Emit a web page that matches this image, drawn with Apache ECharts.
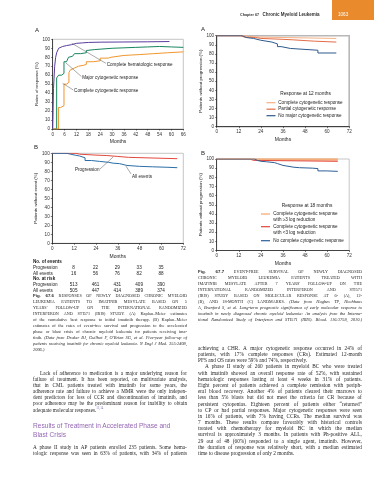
<!DOCTYPE html>
<html><head><meta charset="utf-8">
<script src="https://cdn.jsdelivr.net/npm/echarts@6/dist/echarts.min.js"></script>
<style>
html,body{margin:0;padding:0;background:#fff;}
#page{position:relative;width:374px;height:480px;overflow:hidden;background:#fff;}
#chart{position:absolute;left:0;top:0;width:374px;height:480px;}
#txt{position:absolute;left:0;top:0;width:374px;height:480px;pointer-events:none;}
.ln{position:absolute;display:flex;flex-wrap:nowrap;white-space:nowrap;align-items:baseline;font-family:"Liberation Serif",serif;color:#231f20;}
.ln span{white-space:nowrap;}
.hd{position:absolute;white-space:nowrap;font-family:"Liberation Sans",sans-serif;color:#9467b3;}
</style></head><body>
<div id="page"><div id="chart"></div><div id="txt"></div></div>
<script>
// ---------- DATA ----------
// Fig 67.6 A : cumulative best response (months, %)
const monthsA_CHR  = [0, 0.4, 1, 1.5, 2, 3, 4, 5, 7, 9.5, 12, 15, 18, 24, 36, 48, 59];
const valuesA_CHR  = [0, 45, 70, 80, 85, 90, 92, 93, 94, 95.5, 96, 96.5, 96.8, 97, 97.2, 97.5, 97.5];
const monthsA_MCyR = [0, 2, 3, 4.5, 5.7, 7, 8, 9, 10, 11, 14, 17, 18, 21, 24, 30, 36, 42, 48, 54, 60, 66];
const valuesA_MCyR = [0, 57, 60, 62, 75, 77, 80, 81, 82, 84, 85, 87.5, 88.5, 89, 90, 90.5, 91, 91.5, 92, 91.5, 91, 91];
const monthsA_CCyR = [0, 2.9, 4, 5.7, 7, 8.2, 9, 10, 11, 13, 15.5, 17, 20.5, 24, 28, 29.5, 36, 44, 51, 58, 66];
const valuesA_CCyR = [0, 24, 26, 50, 52, 63, 66, 68, 70, 71, 72, 75, 76, 79, 80, 82, 83, 84, 85, 86, 86];
const seriesNamesA = ['Complete hematologic response', 'Major cytogenetic response', 'Complete cytogenetic response'];

// Fig 67.6 B : patients without event (%)
const monthsB_Prog = [0, 13, 15, 24, 30, 36, 42, 68.7];
const valuesB_Prog = [100, 99, 98, 97.5, 96.5, 95.5, 94, 94];
const monthsB_All  = [0, 8, 10, 12.5, 15, 18, 21.5, 26, 31, 33.5, 37, 41, 48, 55, 63, 68.7];
const valuesB_All  = [100, 99, 98, 97, 95, 92, 91, 90, 89, 88.5, 86.5, 85.5, 85, 84.5, 84, 83.5];
const seriesNamesB = ['Progression', 'All events'];
const tableMonths = [12, 24, 36, 48, 60];
const eventsProgression = [8, 22, 29, 33, 35];
const eventsAll = [16, 56, 76, 82, 88];
const riskProgression = [513, 461, 431, 409, 390];
const riskAll = [505, 447, 414, 389, 374];

// Fig 67.7 A : response at 12 months
const monthsRA_CCyR   = [0, 16, 18, 23, 36, 50, 65];
const valuesRA_CCyR   = [100, 99, 98.5, 98, 97.5, 97, 97];
const monthsRA_PCyR   = [0, 13, 15, 21, 24, 36, 41, 53, 65];
const valuesRA_PCyR   = [100, 98.5, 98, 97, 96, 95.5, 94, 93, 93];
const monthsRA_NoMCyR = [0, 14, 16, 20, 24, 30, 33, 35, 40, 55, 65];
const valuesRA_NoMCyR = [100, 98, 97, 95, 93, 91, 88, 86, 84, 81, 81];
const legendRA = ['Complete cytogenetic response', 'Partial cytogenetic response', 'No major cytogenetic response'];

// Fig 67.7 B : response at 18 months
const monthsRB_ge3   = [0, 65.8];
const valuesRB_ge3   = [100, 100];
const monthsRB_lt3   = [0, 18, 20, 65.8];
const valuesRB_lt3   = [100, 98.5, 97.5, 97.5];
const monthsRB_noCCyR = [0, 20.7, 22, 24, 27, 31.5, 33, 36, 42, 45, 52, 55, 59.5, 65.8];
const valuesRB_noCCyR = [100, 98.5, 97.5, 97, 96, 95, 93, 91, 90.5, 90, 89.5, 87, 86.5, 86.5];
const legendRB = ['Complete cytogenetic response\nwith \u22653 log reduction', 'Complete cytogenetic response\nwith <3 log reduction', 'No complete cytogenetic response'];

const xTicksLeftA = {max: 66, interval: 6};
const xTicksOther = {max: 72, interval: 12};

// ---------- CHART ----------
const FONT = 'Liberation Sans';
const chart = echarts.init(document.getElementById('chart'), null, {renderer: 'canvas', width: 374, height: 480});
const grids = [
  {left: 52.7, top: 39.3, width: 130.6, height: 89.7},
  {left: 52.3, top: 153.3, width: 131, height: 90},
  {left: 216.7, top: 35.7, width: 132.5, height: 91},
  {left: 216.7, top: 159, width: 132.5, height: 91.5}
].map((g, i) => Object.assign({show: true, borderColor: '#b8b8b8', borderWidth: i === 2 ? 1.6 : 0.8, backgroundColor: 'transparent', containLabel: false}, g));

function xAx(gi, t) {
  return {type: 'value', gridIndex: gi, min: 0, max: t.max, interval: t.interval,
    name: 'Months', nameLocation: 'middle', nameGap: 10.5,
    nameTextStyle: {fontFamily: FONT, fontSize: 5, color: '#222'},
    axisLine: {show: true, onZero: false, lineStyle: {color: '#222', width: 0.8}},
    axisTick: {show: true, length: 1.5, lineStyle: {color: '#222', width: 0.6}},
    axisLabel: {fontFamily: FONT, fontSize: 4.6, color: '#333', margin: 2.8},
    splitLine: {show: false}};
}
function yAx(gi, name, gap) {
  return {type: 'value', gridIndex: gi, min: 0, max: 100, interval: 10,
    name, nameLocation: 'middle', nameGap: gap, nameRotate: 90,
    nameTextStyle: {fontFamily: FONT, fontSize: 4.4, color: '#222'},
    axisLine: {show: true, lineStyle: {color: '#222', width: 0.8}},
    axisTick: {show: true, length: 1.5, lineStyle: {color: '#222', width: 0.6}},
    axisLabel: {fontFamily: FONT, fontSize: 4.6, color: '#333', margin: 2.6},
    splitLine: {show: false}};
}
function km(name, gi, xs, ys, color, extra) {
  return Object.assign({type: 'line', name, xAxisIndex: gi, yAxisIndex: gi,
    data: xs.map((x, i) => [x, ys[i]]), step: 'end', symbol: 'none', showSymbol: false,
    lineStyle: {color, width: 1}, itemStyle: {color}, silent: true, animation: false}, extra || {});
}
const colA = ['#5a3c9e', '#17855e', '#f0962e'];
const colB = ['#e2483c', '#2b6ea6'];
const colRA = ['#f6b083', '#e26c47', '#2d5a8c'];
const colRB = ['#f3a66c', '#e2463a', '#2e5f96'];

chart.setOption({
  animation: false,
  grid: grids,
  xAxis: [xAx(0, xTicksLeftA), xAx(1, xTicksOther), xAx(2, xTicksOther), xAx(3, xTicksOther)],
  yAxis: [yAx(0, 'Rates of response (%)', 14), yAx(1, 'Patients without event (%)', 14.5),
          yAx(2, 'Patients without progression (%)', 12.8), yAx(3, 'Patients without progression (%)', 12.8)],
  series: [
    km(seriesNamesA[0], 0, monthsA_CHR, valuesA_CHR, colA[0]),
    km(seriesNamesA[1], 0, monthsA_MCyR, valuesA_MCyR, colA[1]),
    km(seriesNamesA[2], 0, monthsA_CCyR, valuesA_CCyR, colA[2]),
    km(seriesNamesB[0], 1, monthsB_Prog, valuesB_Prog, colB[0]),
    km(seriesNamesB[1], 1, monthsB_All, valuesB_All, colB[1]),
    km(legendRA[0], 2, monthsRA_CCyR, valuesRA_CCyR, colRA[0]),
    km(legendRA[1], 2, monthsRA_PCyR, valuesRA_PCyR, colRA[1]),
    km(legendRA[2], 2, monthsRA_NoMCyR, valuesRA_NoMCyR, colRA[2]),
    km(legendRB[1], 3, monthsRB_lt3, valuesRB_lt3, colRB[1], {areaStyle: {origin: 'end', color: '#f7c7a6', opacity: 1}}),
    km(legendRB[0], 3, monthsRB_ge3, valuesRB_ge3, colRB[0], {lineStyle: {color: colRB[0], width: 1.4}}),
    km(legendRB[2], 3, monthsRB_noCCyR, valuesRB_noCCyR, colRB[2])
  ]
});

function px(gi, x, y) { return chart.convertToPixel({gridIndex: gi}, [x, y]); }
const G = [];
function txt(text, x, y, o) {
  o = o || {};
  G.push({type: 'text', x, y, silent: true, z: 100, style: {text, fill: o.fill || '#222',
    fontFamily: o.family || FONT, fontSize: o.size || 4.6, fontWeight: o.weight || 'normal',
    align: o.align || 'left', verticalAlign: o.va || 'middle', lineHeight: o.lh || undefined}});
}
function seg(x1, y1, x2, y2, color, w) {
  G.push({type: 'line', silent: true, z: 100, shape: {x1, y1, x2, y2}, style: {stroke: color, lineWidth: w}});
}
// header
G.push({type: 'rect', silent: true, shape: {x: 332, y: 0, width: 42, height: 20}, style: {fill: '#e98b2c'}});
txt('1063', 338, 15, {fill: '#fff', size: 4.6});
txt('Chapter 67', 240, 15, {weight: 'bold', size: 3.7, fill: '#333'});
txt('Chronic Myeloid Leukemia', 262.5, 15, {weight: 'bold', size: 4.5, fill: '#333'});
// panel letters
txt('A', 35, 30, {size: 6}); txt('B', 34, 147, {size: 6});
txt('A', 201, 29, {size: 6}); txt('B', 201, 153, {size: 6});

// annotations on left A
const annoA = [
  {from: [9.6, 95.6], to: [26.9, 73.2]},
  {from: [6.5, 74], to: [14.5, 58.5]},
  {from: [5, 51], to: [10.4, 43.5]}
];
annoA.forEach((a, i) => {
  const p1 = px(0, a.from[0], a.from[1]), p2 = px(0, a.to[0], a.to[1]);
  seg(p1[0], p1[1], p2[0], p2[1], '#555', 0.5);
  txt(seriesNamesA[i], p2[0] + 0.8, p2[1] + 1, {size: 4.6});
});
// annotations on left B
{
  const p1 = px(1, 33.5, 96), p2 = px(1, 26.2, 82.5);
  seg(p1[0], p1[1], p2[0], p2[1], '#555', 0.5);
  txt(seriesNamesB[0], p2[0] - 0.5, p2[1] + 0.5, {align: 'right'});
  const q1 = px(1, 40.5, 85.8), q2 = px(1, 43.3, 77);
  seg(q1[0], q1[1], q2[0], q2[1], '#555', 0.5);
  txt(seriesNamesB[1], q2[0] + 1, q2[1] + 2.5);
}
// risk table
const tableRows = [
  {label: 'No. of events', bold: true}, {label: 'Progression', values: eventsProgression},
  {label: 'All events', values: eventsAll}, {label: 'No. at risk', bold: true},
  {label: 'Progression', values: riskProgression}, {label: 'All events', values: riskAll}
];
const rowY = [262, 267.8, 273.3, 278.8, 284.8, 290.3];
tableRows.forEach((r, i) => {
  txt(r.label, 33, rowY[i], {weight: r.bold ? 'bold' : 'normal', size: 4.6});
  if (r.values) r.values.forEach((v, k) => {
    const p = px(1, tableMonths[k], 0);
    txt(String(v), p[0] - 0.5, rowY[i], {align: 'center', size: 4.6});
  });
});
// legends right
function legend(title, names, colors, titleX, titleY, iconX1, iconX2, textX, ys) {
  txt(title, titleX, titleY, {align: 'center', size: 4.8});
  names.forEach((n, i) => {
    seg(iconX1, ys[i], iconX2, ys[i], colors[i], 1.2);
    txt(n, textX, ys[i] - 3, {va: 'top', lh: 6, size: 4.6});
  });
}
legend('Response at 12 months', legendRA, colRA, 305.5, 94, 266.5, 275.5, 278.3, [102.7, 109.2, 115.7]);
legend('Response at 18 months', legendRB, colRB, 307, 205.7, 261, 270, 273.3, [214, 226.7, 240.7]);
chart.setOption({graphic: {elements: G}});

// ---------- TEXT ----------
const T = document.getElementById('txt');
function makeLine(str, x, y, w, size, justify, lh) {
  const d = document.createElement('div');
  d.className = 'ln';
  d.style.left = x + 'px'; d.style.top = (y - lh / 2) + 'px';
  d.style.height = lh + 'px'; d.style.lineHeight = lh + 'px';
  d.style.fontSize = size + 'px';
  if (justify) { d.style.width = w + 'px'; d.style.justifyContent = 'space-between'; }
  else { d.style.columnGap = (size * 0.25) + 'px'; }
  let it = false, b = false, u = false;
  str.split(' ').forEach(w0 => {
    let wd = w0, ch = true;
    while (ch) { ch = false;
      if (wd.startsWith('<i>')) { wd = wd.slice(3); it = true; ch = true; }
      else if (wd.startsWith('<b>')) { wd = wd.slice(3); b = true; ch = true; }
      else if (wd.startsWith('<u>')) { wd = wd.slice(3); u = true; ch = true; } }
    let ci = false, cb = false, cu = false; ch = true;
    while (ch) { ch = false;
      if (wd.endsWith('</i>')) { wd = wd.slice(0, -4); ci = true; ch = true; }
      else if (wd.endsWith('</b>')) { wd = wd.slice(0, -4); cb = true; ch = true; }
      else if (wd.endsWith('</u>')) { wd = wd.slice(0, -4); cu = true; ch = true; } }
    const s = document.createElement('span');
    let sup = null;
    if (wd.indexOf('^') >= 0) { const parts = wd.split('^'); wd = parts[0]; sup = parts[1]; }
    s.textContent = wd;
    if (it) s.style.fontStyle = 'italic';
    if (b) { s.style.fontFamily = '"Liberation Sans",sans-serif'; s.style.fontWeight = 'bold'; s.style.fontSize = (size * 1.0) + 'px'; }
    if (u) { s.style.fontSize = (size * 0.95) + 'px'; }
    if (sup) { const e = document.createElement('sup'); e.textContent = sup; e.style.fontSize = (size * 0.6) + 'px'; e.style.color = '#7f6fb8'; e.style.verticalAlign = 'top'; e.style.lineHeight = '1'; s.appendChild(e); }
    d.appendChild(s);
    if (ci) it = false; if (cb) b = false; if (cu) u = false;
  });
  T.appendChild(d);
}
function block(lines, x, y0, step, w, size, indent) {
  lines.forEach((l, i) => {
    let s = l, ind = 0, just = true;
    if (s.startsWith('>')) { s = s.slice(1); ind = indent; }
    if (s.endsWith('|')) { s = s.slice(0, -1); just = false; }
    makeLine(s, x + ind, y0 + i * step, w - ind, size, just, step);
  });
}
const capLeft = [
  '<b>Fig. 67.6</b> <u>RESPONSES OF NEWLY DIAGNOSED CHRONIC MYELOID</u>',
  '<u>LEUKEMIA PATIENTS TO IMATINIB MESYLATE BASED ON 5</u>',
  "<u>YEARS' FOLLOW-UP ON THE INTERNATIONAL RANDOMIZED</u>",
  '<u>INTERFERON AND STI571 (IRIS) STUDY.</u> (A) Kaplan\u2013Meier estimates',
  'of the cumulative best response to initial imatinib therapy. (B) Kaplan\u2013Meier',
  'estimates of the rates of event-free survival and progression to the accelerated',
  'phase or blast crisis of chronic myeloid leukemia for patients receiving ima-',
  "tinib. <i>(Data from Druker BJ, Guilhot F, O'Brien SG, et al. Five-year follow-up of</i>",
  '<i>patients receiving imatinib for chronic myeloid leukemia. N Engl J Med. 355:2408,</i>',
  '<i>2006.)</i>|'
];
const capRight = [
  '<b>Fig. 67.7</b> <u>EVENT-FREE SURVIVAL OF NEWLY DIAGNOSED</u>',
  '<u>CHRONIC MYELOID LEUKEMIA PATIENTS TREATED WITH</u>',
  "<u>IMATINIB MESYLATE AFTER 7 YEARS' FOLLOW-UP ON THE</u>",
  '<u>INTERNATIONAL RANDOMIZED INTERFERON AND STI571</u>',
  '<u>(IRIS) STUDY BASED ON MOLECULAR RESPONSE AT 6- (A), 12-</u>',
  '<u>(B), AND 18-MONTH (C) LANDMARKS.</u> <i>(Data from Hughes TP, Hochhaus</i>',
  '<i>A, Branford S, et al. Long-term prognostic significance of early molecular response to</i>',
  '<i>imatinib in newly diagnosed chronic myeloid leukemia: An analysis from the Interna-</i>',
  '<i>tional Randomized Study of Interferon and STI571 (IRIS). Blood. 116:3758, 2010.)</i>'
];
const bodyLeft = [
  '>Lack of adherence to medication is a major underlying reason for',
  'failure of treatment. It has been reported, on multivariate analysis,',
  'that in CML patients treated with imatinib for some years, the',
  'adherence rate and failure to achieve a MMR were the only indepen-',
  'dent predictors for loss of CCR and discontinuation of imatinib, and',
  'poor adherence may be the predominant reason for inability to obtain',
  'adequate molecular responses.^13,14|'
];
const bodyLeft2 = [
  'A phase II study in AP patients enrolled 235 patients. Some hema-',
  'tologic response was seen in 63% of patients, with 34% of patients'
];
const bodyRight = [
  'achieving a CHR. A major cytogenetic response occurred in 24% of',
  'patients, with 17% complete responses (CRs). Estimated 12-month',
  'PFS and OS rates were 59% and 74%, respectively.|',
  '>A phase II study of 260 patients in myeloid BC who were treated',
  'with imatinib showed an overall response rate of 52%, with sustained',
  'hematologic responses lasting at least 4 weeks in 31% of patients.',
  'Eight percent of patients achieved a complete remission with periph-',
  'eral blood recovery. Another 4% of patients cleared their marrows to',
  'less than 5% blasts but did not meet the criteria for CR because of',
  'persistent cytopenias. Eighteen percent of patients either \u201creturned\u201d',
  'to CP or had partial responses. Major cytogenetic responses were seen',
  'in 16% of patients, with 7% having CCRs. The median survival was',
  '7 months. These results compare favorably with historical controls',
  'treated with chemotherapy for myeloid BC in which the median',
  'survival is approximately 3 months. In patients with Ph-positive ALL,',
  '29 out of 48 (60%) responded to a single agent, imatinib. However,',
  'the duration of response was relatively short, with a median estimated',
  'time to disease progression of only 2 months.|'
];
block(capLeft, 33, 296, 6.0, 154, 4.4, 0);
block(capRight, 198, 272, 6.0, 164, 4.4, 0);
block(bodyLeft, 33, 373, 6.1, 154, 5.2, 7);
block(bodyLeft2, 33, 447, 6.1, 154, 5.2, 0);
block(bodyRight, 198, 348, 6.18, 164, 5.3, 7);
['Results of Treatment in Accelerated Phase and', 'Blast Crisis'].forEach((h, i) => {
  const d = document.createElement('div'); d.className = 'hd';
  d.style.left = '33px'; d.style.top = (426 + i * 8.5 - 4) + 'px';
  d.style.fontSize = '6.6px'; d.style.lineHeight = '8px'; d.textContent = h;
  T.appendChild(d);
});
</script>
</body></html>
